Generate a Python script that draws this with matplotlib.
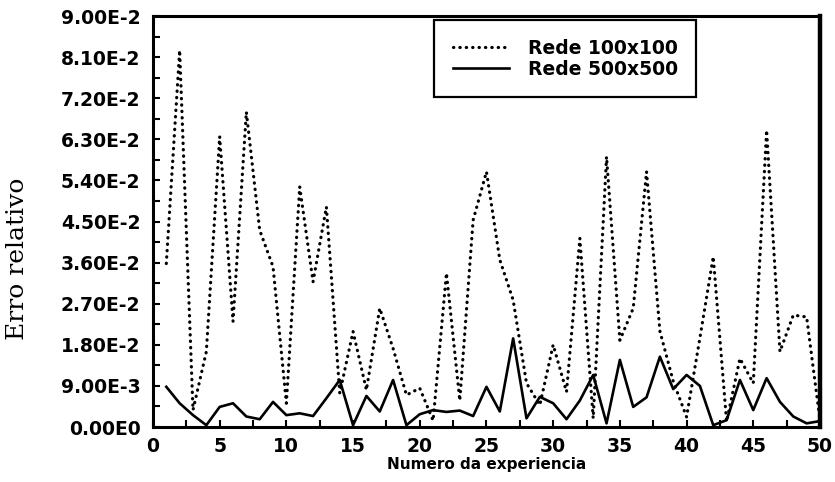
import numpy as np
import matplotlib
matplotlib.use("Agg")
import matplotlib.pyplot as plt
from matplotlib.ticker import MultipleLocator, FixedLocator

experiencia=list(range(1,51))

rede_100=[
0.0358,0.0825,0.0037,0.0165,0.0636,0.0231,0.0690,0.0431,0.0351,0.0052,
0.0526,0.0318,0.0482,0.0074,0.0209,0.0081,0.0260,0.0172,0.0070,0.0085,
0.0014,0.0337,0.0058,0.0453,0.0559,0.0366,0.0278,0.0096,0.0048,0.0180,
0.0077,0.0413,0.0019,0.0592,0.0190,0.0260,0.0559,0.0210,0.0100,0.0022,
0.0195,0.0373,0.0012,0.0150,0.0096,0.0650,0.0165,0.0245,0.0241,0.0015
]

rede_500=[
0.0088,0.0052,0.0026,0.0004,0.0044,0.0052,0.0023,0.0017,0.0055,0.0026,
0.0030,0.0024,0.0063,0.0103,0.0004,0.0068,0.0034,0.0103,0.0004,0.0028,
0.0037,0.0033,0.0036,0.0024,0.0088,0.0034,0.0194,0.0019,0.0066,0.0052,
0.0017,0.0058,0.0114,0.0008,0.0147,0.0044,0.0065,0.0154,0.0083,0.0114,
0.0090,0.0004,0.0015,0.0103,0.0037,0.0107,0.0055,0.0023,0.0008,0.0013
]

ytick_vals=[0,0.009,0.018,0.027,0.036,0.045,0.054,0.063,0.072,0.081,0.090]
ytick_labels=["0.00E0","9.00E-3","1.80E-2","2.70E-2","3.60E-2","4.50E-2",
"5.40E-2","6.30E-2","7.20E-2","8.10E-2","9.00E-2"]
xtick_vals=[0,5,10,15,20,25,30,35,40,45,50]

fig=plt.figure(figsize=(8.35,4.82),dpi=100)
ax=fig.add_axes([0.1832,0.1141,0.7988,0.8527])

ax.plot(experiencia,rede_100,color="black",linewidth=2.3,
        linestyle=(0,(0.1,1.9)),dash_capstyle="round",label="Rede 100x100")
ax.plot(experiencia,rede_500,color="black",linewidth=1.9,
        label="Rede 500x500")

ax.set_xlim(0,50)
ax.set_ylim(0,0.09)

ax.yaxis.set_major_locator(FixedLocator(ytick_vals))
ax.set_yticklabels(ytick_labels)
ax.yaxis.set_minor_locator(MultipleLocator(0.0045))
ax.xaxis.set_major_locator(FixedLocator(xtick_vals))
ax.xaxis.set_minor_locator(MultipleLocator(2.5))

ax.tick_params(which="both",direction="in",width=1.5,length=5)
ax.tick_params(axis="y",labelsize=13.5,pad=9)
ax.tick_params(axis="x",labelsize=13.5,pad=7)
for lab in ax.get_xticklabels()+ax.get_yticklabels():
    lab.set_fontweight("bold")

for side in ["left","bottom","top"]:
    ax.spines[side].set_linewidth(2.2)
ax.spines["right"].set_linewidth(3.2)

ax.set_xlabel("Numero da experiencia",fontsize=11,fontweight="bold",labelpad=1)
ax.set_ylabel("Erro relativo",fontsize=18,family="DejaVu Serif")
ax.yaxis.set_label_coords(-0.186,0.41)

leg=ax.legend(loc="upper left",bbox_to_anchor=(0.421,0.99),
              fancybox=False,edgecolor="black",framealpha=1,
              prop={"weight":"bold","size":13.5},handlelength=3.0,
              handletextpad=1.0,borderpad=1.0,labelspacing=0.1,
              borderaxespad=0)
leg.get_frame().set_linewidth(1.6)

fig.savefig("out.png",dpi=100)
